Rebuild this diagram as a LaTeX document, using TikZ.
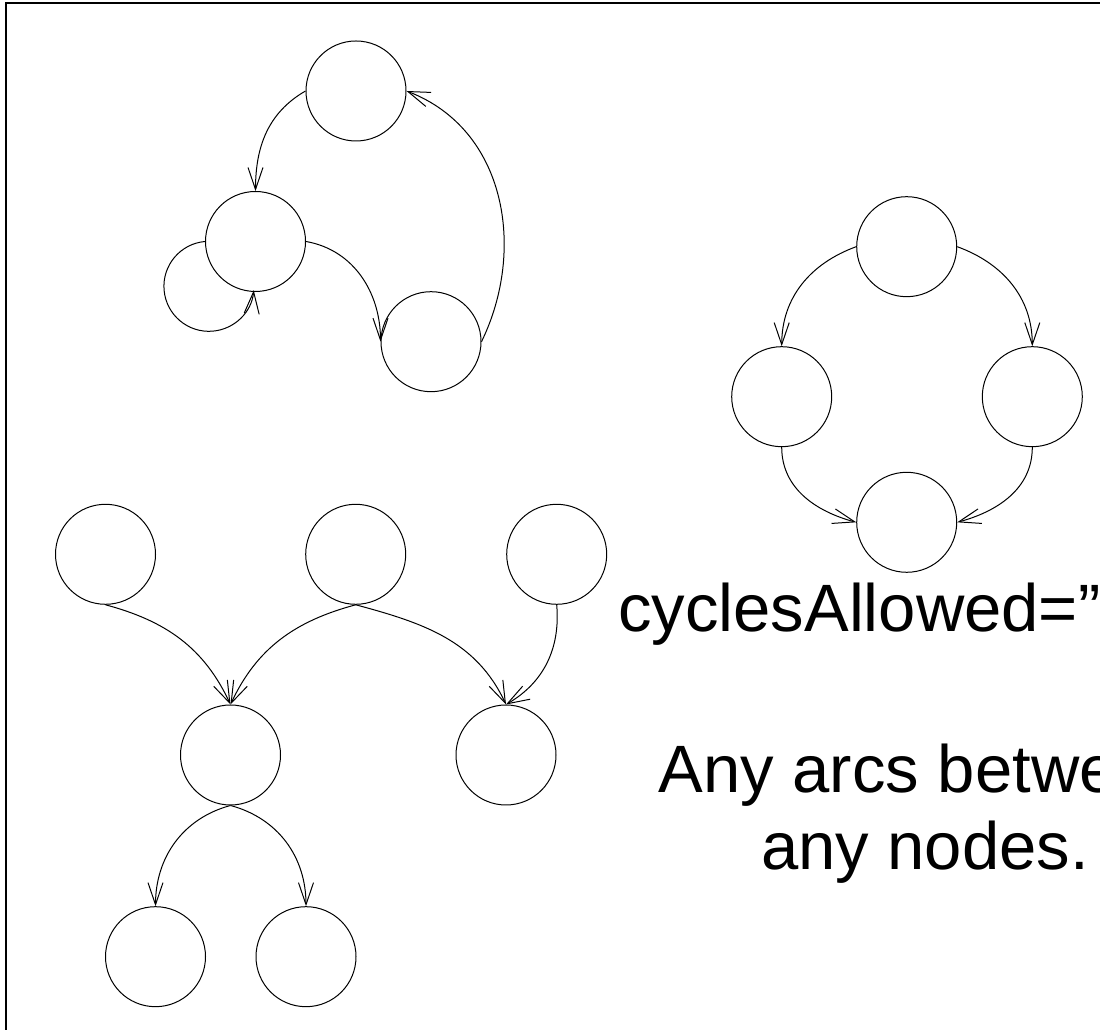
\documentclass[tikz,border=0pt]{standalone}
\usepackage{fontspec}
\setmainfont{Liberation Sans}
\usepackage{tikz}
\usetikzlibrary{arrows.meta, positioning}
\tikzset{
    statenode/.style = {draw, circle, minimum size=100pt, inner sep=0pt, line width=1pt, node distance=0em},
    textnode/.style  = {draw=none, fill=none, inner sep=0pt, node distance=0em,
      font=\fontsize{67}{77}\selectfont},
    connect/.style = {line width=1pt, -{Straight Barb[length=22pt,width=15pt]}},
    every text node part/.style={align=center}
}
\begin{document}
\begin{tikzpicture}[x=1pt, y=1pt]
    \useasboundingbox (0,0) rectangle (1100,1030);
    \clip (0,0) rectangle (1100,1030);
    \draw[line width=2pt] (5.5,-5) -- (5.5,1026.7) -- (1110,1026.7);

    % graph with a cycle and a self loop
    \node [statenode, name=top] at (356,939) {};
    \node [statenode, name=mid, below of = top, xshift=-100.5pt, yshift=-150.5pt] {};
    \node [statenode, name=low, below of = top, xshift=75pt, yshift=-250.7pt] {};
    \draw [connect] (top.west) to[out=210, in=90] (mid.north);
    \draw [connect] (mid.east) to[out=-10, in=90] (low.west);
    \draw [connect] (low.east) .. controls +(64:102) and +(-21:107) .. (top.east);
    \draw [connect] (mid.west) arc [start angle=95, end angle=355, radius=45];

    % diamond of four
    \node [statenode, name=ringtop] at (906.7,783.3) {};
    \node [statenode, name=ringleft, below of = ringtop, xshift=-125pt, yshift=-150pt] {};
    \node [statenode, name=ringright, below of = ringtop, xshift=125.6pt, yshift=-150pt] {};
    \node [statenode, name=ringlow, below of = ringtop, yshift=-275.6pt] {};
    \draw [connect] (ringtop.west) to[out=200, in=90] (ringleft.north);
    \draw [connect] (ringtop.east) to[out=-20, in=90] (ringright.north);
    \draw [connect] (ringleft.south) to[out=270, in=165] (ringlow.west);
    \draw [connect] (ringright.south) to[out=270, in=15] (ringlow.east);

    % tree-like graph
    \node [statenode, name=a] at (105.5,475.7) {};
    \node [statenode, name=b, right of = a, xshift=250.2pt] {};
    \node [statenode, name=c, right of = a, xshift=451.2pt] {};
    \node [statenode, name=d, below of = a, xshift=125pt, yshift=-200.7pt] {};
    \node [statenode, name=e, below of = a, xshift=400.5pt, yshift=-200.7pt] {};
    \node [statenode, name=f, below of = d, xshift=-75pt, yshift=-201.7pt] {};
    \node [statenode, name=g, below of = d, xshift=75.5pt, yshift=-201.7pt] {};
    \draw [connect] (a.south) to[out=-15, in=115] (d.north);
    \draw [connect] (b.south) to[out=195, in=65] (d.north);
    \draw [connect] (b.south) to[out=-15, in=115] (e.north);
    \draw [connect] (c.south) to[out=-85, in=30] (e.north);
    \draw [connect] (d.south) to[out=195, in=90] (f.north);
    \draw [connect] (d.south) to[out=-15, in=90] (g.north);

    \node [textnode, name=cycles, anchor=base west] at (618,398.3) {cyclesAllowed=”};
    \node [textnode, name=anyarcs, anchor=base] at (925,160) {Any arcs between\\any nodes.};
\end{tikzpicture}
\end{document}
